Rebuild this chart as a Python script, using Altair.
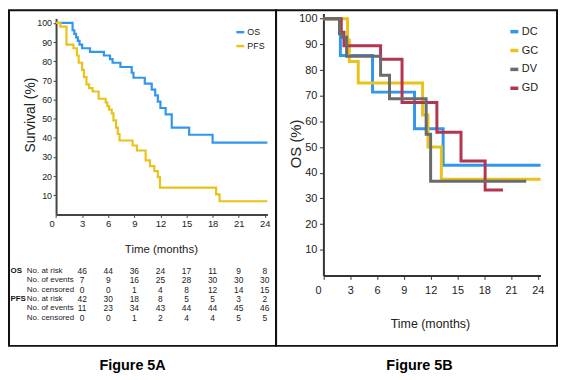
import altair as alt
import pandas as pd

NARROW = "'Liberation Sans Narrow', 'Liberation Sans', Arial, sans-serif"
SANS = "'Liberation Sans', Arial, sans-serif"
INK = "#222222"

# ---------------- Figure 5A : Kaplan-Meier, whole cohort ----------------
os_t = [0, 1.9, 2.1, 2.3, 2.5, 2.7, 3.0, 3.9, 5.5, 6.2, 6.5, 7.4, 8.7, 8.9, 10.2,
        11.0, 11.4, 11.7, 12.0, 12.6, 13.3, 15.3, 18.0, 24.3]
os_s = [100, 96.2, 94.3, 92.5, 90.6, 88.7, 86.8, 84.9, 83.0, 81.1, 79.2, 77.0, 74.0,
        71.4, 68.3, 65.2, 62.2, 58.9, 55.6, 52.3, 45.3, 41.6, 37.5, 37.5]
pfs_t = [0, 0.5, 1.2, 2.0, 2.4, 2.6, 3.0, 3.2, 3.5, 3.8, 4.2, 4.9, 5.7, 5.9, 6.1,
         6.4, 6.6, 6.9, 7.1, 7.3, 8.8, 9.3, 10.3, 10.8, 11.3, 11.7, 11.95, 18.4,
         18.8, 24.3]
pfs_s = [100, 98.1, 88.7, 86.8, 83.0, 79.2, 75.5, 71.7, 67.9, 66.0, 64.2, 60.4, 58.5,
         56.6, 54.7, 52.8, 49.1, 45.3, 42.0, 38.6, 36.0, 33.4, 28.2, 25.2, 22.6,
         19.5, 14.0, 10.5, 6.9, 6.9]
series_a = ["OS", "PFS"]

time_ticks = [0, 3, 6, 9, 12, 15, 18, 21, 24]
surv_ticks = [10, 20, 30, 40, 50, 60, 70, 80, 90, 100]

# number-at-risk table
table_times = [3, 6, 9, 12, 15, 18, 21, 24]
table_groups = ["OS", "PFS"]
row_names = ["No. at risk", "No. of events", "No. censored"]
os_at_risk = [46, 44, 36, 24, 17, 11, 9, 8]
os_events = [7, 9, 16, 25, 28, 30, 30, 30]
os_censored = [0, 0, 1, 4, 8, 12, 14, 15]
pfs_at_risk = [42, 30, 18, 8, 5, 5, 3, 2]
pfs_events = [11, 23, 34, 43, 44, 44, 45, 46]
pfs_censored = [0, 0, 1, 2, 4, 4, 5, 5]

# ---------------- Figure 5B : OS by regimen ----------------
series_b = ["DC", "GC", "DV", "GD"]
dc_t = [0, 1.9, 5.5, 10.2, 13.4, 24.3]
dc_s = [100, 85.7, 71.4, 57.1, 42.9, 42.9]
gc_t = [0, 2.7, 2.9, 3.9, 11.1, 11.7, 13.2, 24.3]
gc_s = [100, 91.7, 83.3, 75.0, 62.5, 50.0, 37.5, 37.5]
dv_t = [0, 1.8, 2.1, 2.6, 6.4, 7.4, 11.5, 12.0, 22.7]
dv_s = [100, 94.1, 92.8, 85.4, 78.0, 68.8, 55.0, 36.7, 36.7]
gd_t = [0, 2.0, 2.3, 6.4, 8.8, 12.7, 15.4, 18.1, 20.1]
gd_s = [100, 94.7, 89.5, 84.2, 67.4, 55.8, 44.6, 33.3, 33.3]

BLUE, YELLOW, GRAY, RED = "#3196ee", "#e9c21b", "#6b6b6b", "#b23650"


def km(name, t, s):
    return pd.DataFrame({"t": t, "s": s, "series": name})


df_a = pd.concat([km("OS", os_t, os_s), km("PFS", pfs_t, pfs_s)])
df_b = pd.concat([km("DC", dc_t, dc_s), km("GC", gc_t, gc_s),
                  km("DV", dv_t, dv_s), km("GD", gd_t, gd_s)])

table_vals = {
    ("OS", row_names[0]): os_at_risk, ("OS", row_names[1]): os_events,
    ("OS", row_names[2]): os_censored, ("PFS", row_names[0]): pfs_at_risk,
    ("PFS", row_names[1]): pfs_events, ("PFS", row_names[2]): pfs_censored,
}
row_keys = [f"{g}|{r}" for g in table_groups for r in row_names]
tab_rows = []
for (g, r), vals in table_vals.items():
    for tt, v in zip(table_times, vals):
        tab_rows.append({"row": f"{g}|{r}", "t": tt, "v": str(v)})
df_tab = pd.DataFrame(tab_rows)
df_rowlab = pd.DataFrame({"row": row_keys, "label": [k.split("|")[1] for k in row_keys]})
df_grp = pd.DataFrame({"row": [f"{g}|{row_names[0]}" for g in table_groups],
                       "label": table_groups})

# ---------------- scales and axes ----------------
ax = alt.Scale(domain=[0, 24.3], range=[47.4, 260.3], nice=False)
ay = alt.Scale(domain=[0, 102.4], range=[205.6, 8.1], nice=False)
bx = alt.Scale(domain=[0, 24.3], range=[47.7, 266.4], nice=False)
by = alt.Scale(domain=[0, 102], range=[267, 3.3], nice=False)
row_scale = alt.Scale(type="point", domain=row_keys, range=[262.5, 309.5], padding=0)

zero_shift_a = {"condition": {"test": "datum.value === 0", "value": -7}, "value": 0}
zero_shift_b = {"condition": {"test": "datum.value === 0", "value": -8.5}, "value": 0}

axis_ax = alt.Axis(
    values=time_ticks, offset=-132.4, grid=False, domainColor="#444", domainWidth=2,
    tickSize=3, tickColor="#444", labelFont=NARROW, labelFontSize=9.5,
    labelColor=INK, labelPadding=1, labelOffset=zero_shift_a,
    title="Time (months)", titleFont=NARROW, titleFontSize=11.5,
    titleFontWeight="normal", titleColor=INK, titleX=153, titleY=35,
    titleBaseline="middle", titleAlign="center")
axis_ay = alt.Axis(
    values=surv_ticks, offset=-47.4, grid=False, domainColor="#444", domainWidth=2,
    tickSize=3, tickColor="#444", labelFont=NARROW, labelFontSize=9,
    labelColor=INK, labelPadding=1.5,
    title="Survival (%)", titleFont=SANS, titleFontSize=14,
    titleFontWeight="normal", titleColor=INK, titleAngle=270, titleX=-25.4,
    titleY=105, titleAlign="center", titleBaseline="middle")
axis_bx = alt.Axis(
    values=time_ticks, offset=-71, grid=False, domainColor="#333",
    domainWidth=2, tickSize=4, tickColor="#333", labelFont=NARROW,
    labelFontSize=11, labelColor=INK, labelPadding=5,
    labelOffset=zero_shift_b, title="Time (months)", titleFont=NARROW,
    titleFontSize=12.5, titleFontWeight="normal", titleColor=INK, titleX=155,
    titleY=48, titleBaseline="middle", titleAlign="center")
axis_by = alt.Axis(
    values=surv_ticks, offset=-47.7, grid=False, domainColor="#333",
    domainWidth=2, tickSize=4, tickColor="#333", labelFont=NARROW,
    labelFontSize=11, labelColor=INK, labelPadding=2.5,
    title="OS (%)", titleFont=SANS, titleFontSize=15,
    titleFontWeight="normal", titleColor=INK, titleAngle=270, titleX=-28,
    titleY=134, titleAlign="center", titleBaseline="middle")

km_a = alt.Chart(df_a).mark_line(interpolate="step-after", strokeWidth=2.2).encode(
    x=alt.X("t:Q", scale=ax, axis=axis_ax),
    y=alt.Y("s:Q", scale=ay, axis=axis_ay),
    color=alt.Color("series:N", scale=alt.Scale(domain=series_a, range=[BLUE, YELLOW]),
                    legend=alt.Legend(title=None, orient="none", direction="vertical",
                                      legendX=227.5, legendY=16.5, padding=0,
                                      symbolType="stroke", symbolSize=64,
                                      symbolStrokeWidth=2.5, labelFont=NARROW,
                                      labelFontSize=9, labelColor=INK,
                                      labelOffset=1.5, rowPadding=3)),
)

tab_nums = alt.Chart(df_tab).mark_text(font=NARROW, fontSize=8.5, color=INK,
                                       baseline="middle").encode(
    x=alt.X("t:Q", scale=ax, axis=axis_ax),
    y=alt.Y("row:N", scale=row_scale, axis=None),
    text="v:N",
)
tab_labels = alt.Chart(df_rowlab).mark_text(font=NARROW, fontSize=8, color=INK,
                                            align="left", baseline="middle").encode(
    x=alt.value(18),
    y=alt.Y("row:N", scale=row_scale, axis=None),
    text="label:N",
)
tab_groups = alt.Chart(df_grp).mark_text(font=NARROW, fontSize=8, color="#111",
                                         fontWeight="bold", align="left",
                                         baseline="middle").encode(
    x=alt.value(1.5),
    y=alt.Y("row:N", scale=row_scale, axis=None),
    text="label:N",
)

left = alt.layer(km_a, tab_nums, tab_labels, tab_groups).resolve_scale(
    y="independent"
).properties(
    width=269, height=338,
    title=alt.TitleParams("Figure 5A", orient="bottom", anchor="middle", font=SANS,
                          fontSize=14.5, fontWeight="bold", color="#000", offset=13,
                          dx=-10),
)

color_b = alt.Color("series:N", scale=alt.Scale(domain=series_b,
                                                range=[BLUE, YELLOW, GRAY, RED]),
                    legend=alt.Legend(title=None, orient="none", direction="vertical",
                                      legendX=234, legendY=15.5, padding=0,
                                      symbolType="stroke", symbolSize=64,
                                      symbolStrokeWidth=3.5, labelFont=NARROW,
                                      labelFontSize=11, labelColor=INK,
                                      labelOffset=1.5, rowPadding=5))

layers_b = []
for name in ["DC", "GC", "GD", "DV"]:
    layers_b.append(
        alt.Chart(df_b).transform_filter(alt.datum.series == name)
        .mark_line(interpolate="step-after", strokeWidth=3).encode(
            x=alt.X("t:Q", scale=bx, axis=axis_bx),
            y=alt.Y("s:Q", scale=by, axis=axis_by),
            color=color_b,
        )
    )

right = alt.layer(*layers_b).properties(
    width=283, height=338,
    title=alt.TitleParams("Figure 5B", orient="bottom", anchor="middle", font=SANS,
                          fontSize=14.5, fontWeight="bold", color="#000", offset=13,
                          dx=3),
)

chart = alt.hconcat(left, right, spacing=0, bounds="flush", padding=0,
                    background="white").resolve_scale(
    color="independent", x="independent", y="independent"
).configure_view(stroke="#111111", strokeWidth=2)

chart.save("out.html", embed_options={"renderer": "svg", "actions": False})
